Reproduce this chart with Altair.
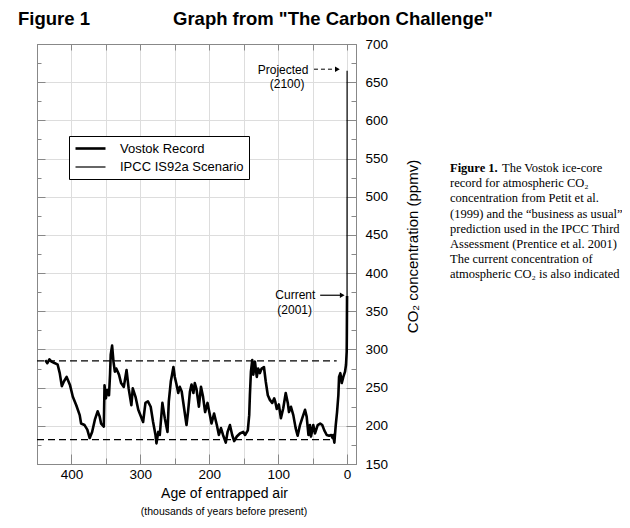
import altair as alt
import pandas as pd

# ---------------- data ----------------
vostok_age = [438, 435, 432, 429, 424, 420, 417, 414, 411, 407, 402, 398, 393, 388, 386, 381, 377, 373.5, 370, 366,
              362, 359, 357, 353, 352, 350, 348, 345.5, 344, 343, 341, 339, 337, 335, 331, 328, 324, 320, 317, 313,
              311, 307, 303, 299, 296, 292.6, 289, 285, 281.5, 278, 276.6, 274, 271.8, 268, 264.5, 260.6, 258.7, 255.8, 254, 252,
              250, 247.5, 245, 242.7, 240, 236.5, 233, 230.7, 228, 225.7, 223, 221, 218.5, 215, 212, 209, 206, 202.5, 199, 196.7,
              193, 189, 186, 183, 180, 176, 173.4, 170, 166.7, 163.8, 160, 155.5, 150.7, 148, 144, 142, 141, 139.5, 137.6, 136,
              133.7, 131, 129, 126.5, 124, 120.6, 118, 115, 112, 108.6, 105.7, 104, 102, 99, 96, 92.6, 89, 86, 84.3, 81.4,
              78, 74.6, 71.7, 68.3, 65, 61, 58.6, 56, 53.8, 52.3, 49, 46.5, 42.6, 39, 36, 33, 29.5, 26, 23, 21,
              20, 18.4, 16.4, 14.5, 12.6, 11.6, 9.7, 7.7, 5.4, 2.9, 1.5, 0.5, 0.3, 0]
vostok_co2 = [286, 282, 287, 284, 282, 280, 269, 252, 258, 264, 253, 238, 227, 214, 203, 201, 195, 184, 192, 208,
              219, 212, 203, 199, 253, 236, 247, 240, 267, 293, 305, 284, 271, 275, 267, 256, 251, 273, 249, 227,
              249, 238, 221, 212, 205, 230, 232, 225, 205, 188, 177, 192, 188, 230, 210, 192, 232, 258, 267, 277,
              264, 254, 243, 251, 245, 223, 201, 219, 245, 254, 243, 256, 248, 225, 251, 238, 218, 230, 214, 203,
              216, 201, 188, 197, 188, 178, 192, 201, 188, 180, 186, 190, 192, 188, 194, 214, 240, 271, 286, 267,
              284, 264, 275, 269, 275, 277, 258, 240, 234, 230, 236, 231, 222, 228, 210, 223, 243, 230, 218, 225,
              214, 197, 187, 201, 210, 221, 212, 188, 201, 186, 201, 190, 201, 203, 201, 194, 188, 187, 188, 184,
              188, 178, 201, 218, 240, 264, 269, 256, 264, 271, 280, 297, 319, 370]
ipcc_age = [0.0, -0.1]
ipcc_co2 = [370, 665]
series_names = ["Vostok Record", "IPCC IS92a Scenario"]
series_widths = [2.6, 1.2]

ref_levels = [285, 182]
ref_start = [450, 450]
ref_end = [15, 20]

x_major = [400, 300, 200, 100, 0]
x_minor = [450, 350, 250, 150, 50]
x_top = [450, 400, 350, 300, 250, 200, 150, 100, 50, 0]
y_major = [150, 200, 250, 300, 350, 400, 450, 500, 550, 600, 650, 700]
y_minor = [175, 225, 275, 325, 375, 425, 475, 525, 575, 625, 675]

annot_text = ["Projected", "(2100)", "Current", "(2001)"]
annot_age = [56, 87, 46, 76]
annot_co2 = [666, 648, 371, 352]
annot_align = ["right", "center", "right", "center"]

arrow_start = [48, 39]
arrow_end = [14, 7]
arrow_level = [667, 371]
arrow_dash = ["dash", "solid"]

caption_lines = [
    "record for atmospheric CO\u2082",
    "concentration from Petit et al.",
    "(1999) and the \u201cbusiness as usual\u201d",
    "prediction used in the IPCC Third",
    "Assessment (Prentice et al. 2001)",
    "The current concentration of",
    "atmospheric CO\u2082 is also indicated",
]

SANS = "Liberation Sans"
SERIF = "Liberation Serif"

xscale = alt.Scale(domain=[-13, 450], reverse=True, nice=False, zero=False)
yscale = alt.Scale(domain=[150, 700], nice=False, zero=False)


def ts(v):
    return alt.ExprRef(expr=str(v))


# ---------------- layers ----------------
rows = []
for i, (a, c) in enumerate(zip(vostok_age, vostok_co2)):
    rows.append({"series": series_names[0], "age": a, "co2": c, "idx": i})
for i, (a, c) in enumerate(zip(ipcc_age, ipcc_co2)):
    rows.append({"series": series_names[1], "age": a, "co2": c, "idx": i})
lines_df = pd.DataFrame(rows)

lines = alt.Chart(lines_df).mark_line(color="black", strokeJoin="round").encode(
    x=alt.X("age:Q", scale=xscale,
            axis=alt.Axis(orient="bottom", values=x_major, tickSize=ts(-10), labelPadding=13,
                          labelFontSize=13.5, title="Age of entrapped air", titleFontSize=14,
                          titleFontWeight="normal", titleX=187, titleY=29, titleBaseline="middle",
                          titleAlign="center")),
    y=alt.Y("co2:Q", scale=yscale,
            axis=alt.Axis(orient="right", values=y_major, tickSize=ts(-10), labelPadding=19,
                          labelFontSize=13.5, title="CO\u2082 concentration (ppmv)", titleFontSize=15,
                          titleFontWeight="normal", titleAngle=270, titleX=56, titleY=202,
                          titleBaseline="middle", titleAlign="center")),
    strokeWidth=alt.StrokeWidth("series:N",
                                scale=alt.Scale(domain=series_names, range=series_widths),
                                legend=alt.Legend(title=None, orient="none", legendX=32, legendY=92,
                                                  direction="vertical", symbolType="M-1,0H4",
                                                  symbolSize=144, symbolStrokeColor="black",
                                                  labelFontSize=13, labelFont=SANS, labelColor="black",
                                                  labelOffset=31, padding=5, rowPadding=4,
                                                  strokeColor="black", fillColor="white",
                                                  cornerRadius=0)),
    order=alt.Order("idx:Q"),
)

ref_df = pd.DataFrame({"level": ref_levels, "start": ref_start, "end": ref_end})
refs = alt.Chart(ref_df).mark_rule(color="black", strokeDash=[7, 4], strokeWidth=1.2).encode(
    x=alt.X("start:Q", scale=xscale,
            axis=alt.Axis(orient="top", values=x_top, labels=False, tickSize=ts(-6), title=None)),
    x2="end:Q",
    y=alt.Y("level:Q", scale=yscale,
            axis=alt.Axis(orient="left", values=y_major, labels=False, tickSize=ts(-8), title=None)),
)

minor1 = alt.Chart(lines_df).mark_point(opacity=0).encode(
    x=alt.X("age:Q", scale=xscale,
            axis=alt.Axis(orient="bottom", values=x_minor, labels=False, tickSize=ts(-6), title=None)),
    y=alt.Y("co2:Q", scale=yscale,
            axis=alt.Axis(orient="right", values=y_minor, labels=False, tickSize=ts(-5), title=None)),
)
minor2 = alt.Chart(lines_df).mark_point(opacity=0).encode(
    x=alt.X("age:Q", scale=xscale, axis=None),
    y=alt.Y("co2:Q", scale=yscale,
            axis=alt.Axis(orient="left", values=y_minor, labels=False, tickSize=ts(-4), title=None)),
)

annot_df = pd.DataFrame({"text": annot_text, "age": annot_age, "co2": annot_co2, "align": annot_align})
annots_r = alt.Chart(annot_df[annot_df["align"] == "right"]).mark_text(
    align="right", baseline="middle", fontSize=12, font=SANS, color="black").encode(
    x=alt.X("age:Q", scale=xscale, axis=None),
    y=alt.Y("co2:Q", scale=yscale, axis=None),
    text="text:N",
)
annots_c = alt.Chart(annot_df[annot_df["align"] == "center"]).mark_text(
    align="center", baseline="middle", fontSize=12, font=SANS, color="black").encode(
    x=alt.X("age:Q", scale=xscale, axis=None),
    y=alt.Y("co2:Q", scale=yscale, axis=None),
    text="text:N",
)

arrow_df = pd.DataFrame({"start": arrow_start, "end": arrow_end, "level": arrow_level, "dash": arrow_dash})
arrow_dashed = alt.Chart(arrow_df[arrow_df["dash"] == "dash"]).mark_rule(
    color="black", strokeWidth=1, strokeDash=[4, 3]).encode(
    x=alt.X("start:Q", scale=xscale, axis=None), x2="end:Q",
    y=alt.Y("level:Q", scale=yscale, axis=None))
arrow_solid = alt.Chart(arrow_df[arrow_df["dash"] == "solid"]).mark_rule(
    color="black", strokeWidth=1.2).encode(
    x=alt.X("start:Q", scale=xscale, axis=None), x2="end:Q",
    y=alt.Y("level:Q", scale=yscale, axis=None))
arrow_heads = alt.Chart(arrow_df).mark_point(
    shape="triangle-right", filled=True, color="black", size=30, opacity=1).encode(
    x=alt.X("end:Q", scale=xscale, axis=None),
    y=alt.Y("level:Q", scale=yscale, axis=None))

fig_label = alt.Chart(pd.DataFrame({"t": ["Figure 1"]})).mark_text(
    align="left", baseline="middle", fontSize=18.5, fontWeight="bold", font=SANS, color="black").encode(
    x=alt.value(-19), y=alt.value(-25), text="t:N")
main_title = alt.Chart(pd.DataFrame({"t": ['Graph from "The Carbon Challenge"']})).mark_text(
    align="left", baseline="middle", fontSize=18.5, fontWeight="bold", font=SANS, color="black").encode(
    x=alt.value(136), y=alt.value(-25), text="t:N")
x_sub = alt.Chart(pd.DataFrame({"t": ["(thousands of years before present)"]})).mark_text(
    align="center", baseline="middle", fontSize=10.5, font=SANS, color="black").encode(
    x=alt.value(187), y=alt.value(468), text="t:N")

cap_bold = alt.Chart(pd.DataFrame({"t": ["Figure 1."]})).mark_text(
    align="left", baseline="middle", fontSize=12.5, fontWeight="bold", font=SERIF, color="black").encode(
    x=alt.value(413), y=alt.value(124), text="t:N")
cap_first = alt.Chart(pd.DataFrame({"t": ["The Vostok ice-core"]})).mark_text(
    align="left", baseline="middle", fontSize=12.5, font=SERIF, color="black").encode(
    x=alt.value(465), y=alt.value(124), text="t:N")
cap_rest = alt.Chart(pd.DataFrame({"t": ["\n".join(caption_lines)]})).mark_text(
    align="left", baseline="middle", fontSize=12.5, font=SERIF, color="black", lineBreak="\n",
    lineHeight=15.2).encode(
    x=alt.value(413), y=alt.value(139.2), text="t:N")

chart = alt.layer(
    refs, lines, minor1, minor2, annots_r, annots_c, arrow_dashed, arrow_solid, arrow_heads,
    fig_label, main_title, x_sub, cap_bold, cap_first, cap_rest,
).resolve_axis(x="independent", y="independent").properties(
    width=319, height=420,
    autosize=alt.AutoSizeParams(type="none"),
    padding={"left": 29, "top": 36, "right": 266, "bottom": 56},
).configure_view(
    stroke="black", strokeWidth=1.2
).configure_axis(
    domain=False, grid=False, tickColor="black", tickWidth=1, labelColor="black",
    titleColor="black", labelFont=SANS, titleFont=SANS,
).configure(background="white")

chart.save("out.html", embed_options={"renderer": "svg", "actions": False})
